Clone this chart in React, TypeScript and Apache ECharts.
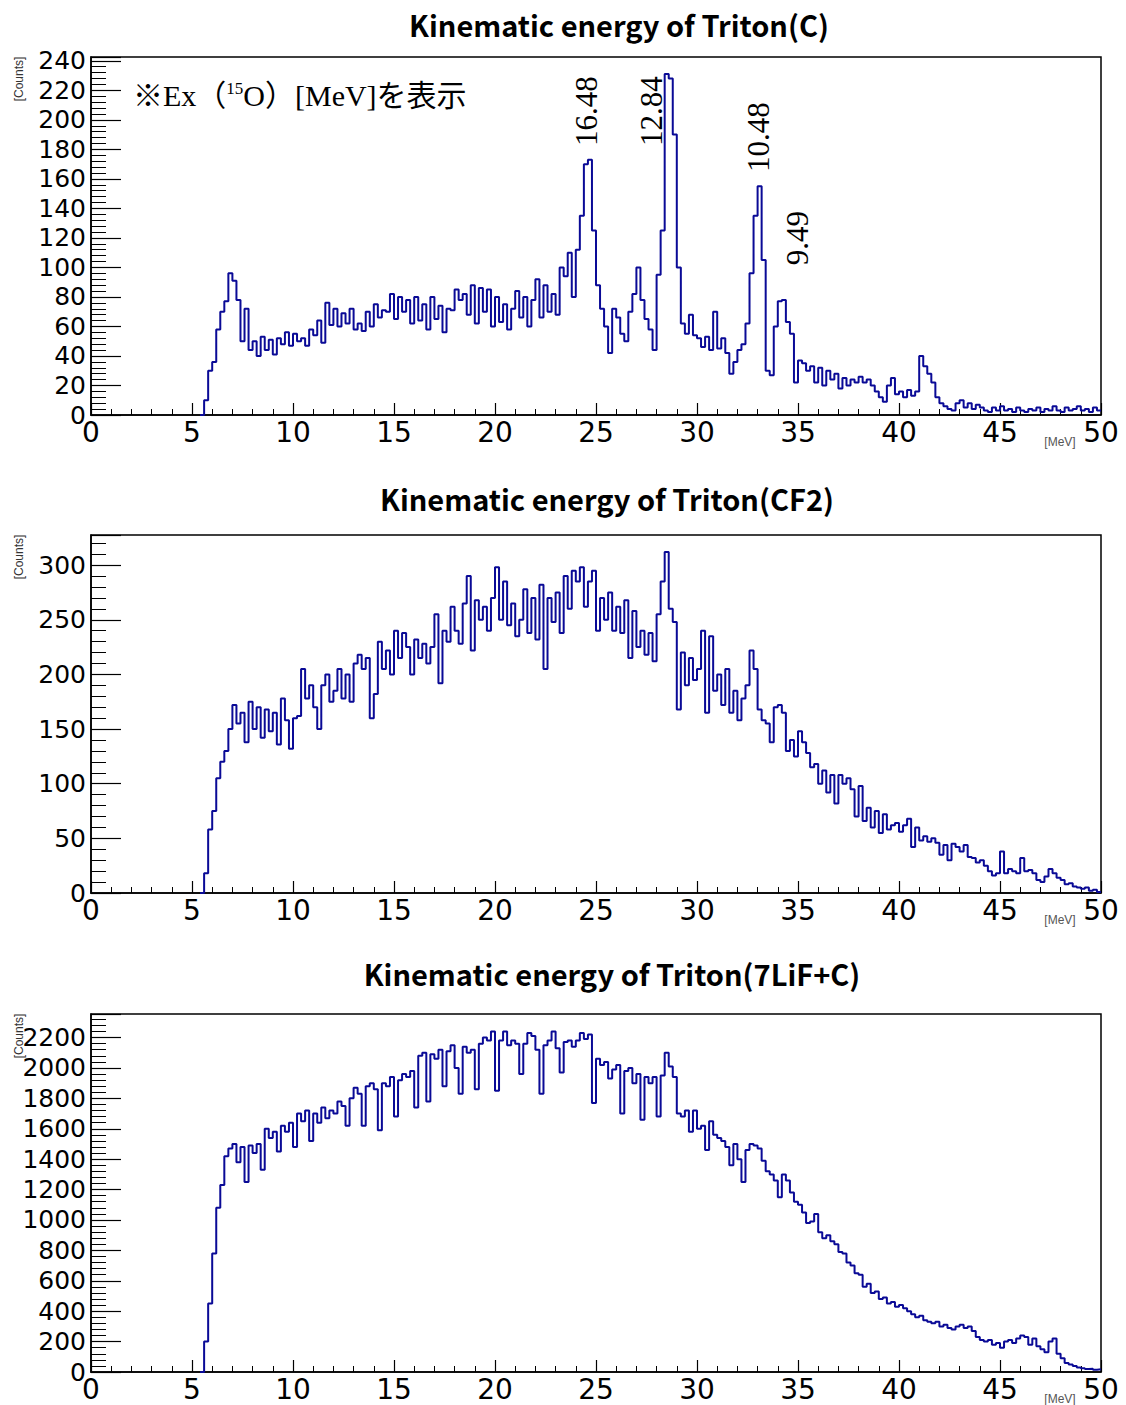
import React, { useEffect, useRef } from "react";
import * as echarts from "echarts";

// ---- data (0.2 MeV bins, first bin starts at 5.4 MeV) ----
const BIN_START = 5.4;
const BIN_WIDTH = 0.2;
const X_MAX = 50;

const countsC = [
  0, 10, 30, 36, 58, 70, 77, 96, 91, 78,
  50, 72, 44, 50, 40, 53, 44, 51, 41, 52,
  48, 56, 47, 55, 50, 52, 47, 58, 54, 64,
  49, 76, 61, 72, 60, 69, 62, 72, 58, 62,
  57, 70, 60, 75, 66, 71, 70, 82, 65, 80,
  70, 78, 62, 80, 64, 75, 58, 80, 65, 74,
  56, 72, 71, 85, 78, 82, 68, 88, 62, 86,
  70, 85, 60, 80, 63, 75, 58, 72, 84, 66,
  80, 60, 78, 92, 66, 88, 70, 82, 68, 100,
  94, 110, 80, 112, 135, 170, 173, 125, 88, 72,
  60, 42, 72, 66, 55, 50, 70, 82, 100, 78,
  65, 58, 44, 95, 125, 231, 228, 190, 100, 62,
  55, 68, 54, 52, 46, 53, 44, 70, 45, 52,
  42, 28, 36, 44, 48, 62, 96, 135, 155, 105,
  30, 27, 60, 77, 78, 63, 55, 22, 37, 35,
  30, 33, 22, 32, 20, 30, 24, 28, 18, 25,
  20, 24, 22, 26, 22, 24, 20, 16, 12, 9,
  20, 25, 14, 16, 12, 17, 13, 16, 40, 33,
  28, 22, 12, 8, 6, 4, 3, 8, 10, 5,
  8, 4, 7, 5, 3, 2, 5, 3, 6, 3,
  4, 2, 5, 3, 2, 4, 3, 5, 2, 4,
  3, 6, 3, 2, 5, 3, 4, 6, 3, 4,
  2, 5, 3,
];

const countsCF2 = [
  0, 18, 58, 75, 105, 120, 130, 150, 172, 155,
  165, 138, 175, 150, 170, 142, 168, 148, 165, 136,
  178, 158, 132, 160, 162, 205, 178, 190, 170, 150,
  190, 200, 175, 185, 205, 178, 200, 175, 210, 218,
  205, 215, 160, 182, 230, 205, 222, 200, 240, 215,
  238, 225, 200, 232, 215, 228, 210, 225, 255, 192,
  240, 230, 262, 240, 228, 265, 290, 222, 268, 250,
  262, 240, 270, 298, 250, 285, 245, 265, 235, 250,
  278, 238, 270, 232, 282, 205, 270, 248, 275, 238,
  290, 260, 295, 285, 298, 262, 285, 295, 240, 270,
  250, 275, 240, 262, 238, 268, 215, 258, 225, 240,
  218, 238, 212, 255, 285, 312, 260, 248, 168, 220,
  190, 215, 195, 205, 240, 165, 235, 185, 200, 172,
  205, 165, 185, 158, 178, 190, 222, 205, 168, 158,
  155, 138, 170, 172, 165, 130, 140, 125, 148, 138,
  128, 115, 118, 100, 112, 92, 108, 82, 108, 100,
  105, 95, 70, 98, 66, 78, 60, 75, 55, 72,
  58, 62, 64, 56, 62, 68, 42, 60, 48, 52,
  47, 50, 46, 35, 44, 30, 45, 42, 38, 44,
  33, 32, 28, 30, 25, 20, 16, 18, 38, 18,
  22, 20, 18, 32, 20, 21, 18, 12, 10, 15,
  22, 18, 14, 12, 8, 9, 6, 5, 4, 5,
  2, 3, 1,
];

const countsLiFC = [
  0, 200, 450, 780, 1080, 1230, 1420, 1470, 1500, 1380,
  1480, 1250, 1490, 1440, 1500, 1330, 1600, 1540, 1580, 1450,
  1620, 1580, 1640, 1480, 1700, 1650, 1720, 1520, 1700, 1640,
  1740, 1670, 1720, 1700, 1780, 1750, 1620, 1800, 1870, 1830,
  1620, 1880, 1900, 1860, 1590, 1900, 1880, 1940, 1680, 1920,
  1960, 1940, 1980, 1740, 2080, 2100, 1780, 2090, 2060, 2120,
  1880, 2110, 2150, 2000, 1830, 2140, 2100, 2120, 1860, 2160,
  2200, 2180, 2240, 1850, 2180, 2240, 2150, 2180, 2160, 1960,
  2160, 2230, 2210, 2120, 1830, 2150, 2180, 2240, 2130, 1970,
  2170, 2180, 2140, 2180, 2230, 2190, 2220, 1770, 2060, 2020,
  2040, 1930, 1990, 2020, 1700, 1980, 2000, 1900, 1960, 1660,
  1940, 1900, 1940, 1680, 1950, 2100, 2010, 1940, 1700, 1680,
  1720, 1580, 1720, 1600, 1620, 1460, 1650, 1560, 1540, 1520,
  1480, 1360, 1500, 1400, 1250, 1460, 1500, 1490, 1470, 1390,
  1320, 1300, 1260, 1150, 1300, 1260, 1180, 1120, 1100, 1050,
  980, 990, 1040, 920, 880, 900, 860, 840, 790, 780,
  720, 700, 650, 640, 560, 580, 520, 530, 480, 490,
  450, 460, 430, 440, 420, 400, 380, 360, 370, 340,
  330, 320, 330, 300, 310, 290, 280, 300, 310, 290,
  300, 270, 230, 210, 200, 210, 180, 190, 160, 200,
  210, 190, 220, 240, 230, 180, 220, 170, 150, 130,
  200, 220, 120, 90, 60, 50, 40, 30, 25, 20,
  22, 15, 18,
];

const titles = [
  "Kinematic energy of Triton(C)",
  "Kinematic energy of Triton(CF2)",
  "Kinematic energy of Triton(7LiF+C)",
];
const yMaxes = [242.6, 327.6, 2355];
const yIntervals = [20, 50, 200];
const xInterval = 5;
const peakLabels = ["16.48", "12.84", "10.48", "9.49"];
const noteText = { before: "※Ex（", sup: "15", after: "O）[MeV]を表示" };
const yAxisTitle = "[Counts]";
const xAxisTitle = "[MeV]";

function toSteps(counts: number[]) {
  const pts: number[][] = counts.map((v, i) => [
    Math.round((BIN_START + i * BIN_WIDTH) * 100) / 100,
    v,
  ]);
  pts.push([X_MAX, counts[counts.length - 1]]);
  return pts;
}

const allCounts = [countsC, countsCF2, countsLiFC];

export default function App() {
  const ref = useRef<HTMLDivElement>(null);

  useEffect(() => {
    if (!ref.current) return;
    const chart = echarts.init(ref.current, undefined, { renderer: "svg" });

    const gridTops = [57, 535, 1014];
    const gridH = 358;
    const titlePos = [
      [619, 24],
      [607, 498],
      [612, 973],
    ];
    const peakPos = [
      [586, 111],
      [651, 111],
      [758, 137],
      [797, 238],
    ];

    const grids = gridTops.map((t) => ({
      left: 91,
      top: t,
      width: 1010,
      height: gridH,
      show: true,
      borderColor: "#000",
      borderWidth: 1.5,
      backgroundColor: "transparent",
    }));

    const xAxes = gridTops.map((_, i) => ({
      gridIndex: i,
      type: "value",
      min: 0,
      max: X_MAX,
      interval: xInterval,
      axisLine: { show: true, onZero: false, lineStyle: { color: "#000", width: 1.5 } },
      axisTick: { show: true, inside: true, length: 12, lineStyle: { color: "#000", width: 1.2 } },
      minorTick: { show: true, splitNumber: 5, length: 6, lineStyle: { color: "#000", width: 1 } },
      splitLine: { show: false },
      minorSplitLine: { show: false },
      axisLabel: {
        color: "#000",
        fontFamily: "DejaVu Sans",
        fontSize: 28,
        margin: 3,
        lineHeight: 28,
        showMinLabel: true,
        showMaxLabel: true,
      },
    }));

    const yAxes = gridTops.map((_, i) => ({
      gridIndex: i,
      type: "value",
      min: 0,
      max: yMaxes[i],
      interval: yIntervals[i],
      axisLine: { show: true, lineStyle: { color: "#000", width: 1.5 } },
      axisTick: { show: true, inside: true, length: 30, lineStyle: { color: "#000", width: 1.2 } },
      minorTick: { show: true, splitNumber: 5, length: 15, lineStyle: { color: "#000", width: 1 } },
      splitLine: { show: false },
      minorSplitLine: { show: false },
      axisLabel: {
        color: "#000",
        fontFamily: "DejaVu Sans",
        fontSize: 25,
        margin: 5,
        formatter: (v: number) =>
          Math.abs(v / yIntervals[i] - Math.round(v / yIntervals[i])) < 1e-6 ? String(v) : "",
      },
    }));

    const series = allCounts.map((c, i) => ({
      type: "line",
      xAxisIndex: i,
      yAxisIndex: i,
      step: "end",
      symbol: "none",
      data: toSteps(c),
      lineStyle: { color: "#0a0a96", width: 2 },
      clip: true,
    }));

    const graphic: any[] = [];
    titles.forEach((t, i) => {
      graphic.push({
        type: "text",
        x: titlePos[i][0],
        y: titlePos[i][1],
        style: {
          text: t,
          fontFamily: "Noto Sans CJK JP",
          fontWeight: "bold",
          fontSize: 29,
          fill: "#000",
          align: "center",
          verticalAlign: "middle",
        },
      });
      graphic.push({
        type: "text",
        x: 19,
        y: gridTops[i] + 22,
        rotation: Math.PI / 2,
        style: {
          text: yAxisTitle,
          fontFamily: "Liberation Sans",
          fontSize: 12,
          fill: "#333",
          align: "center",
          verticalAlign: "middle",
        },
      });
      graphic.push({
        type: "text",
        x: 1060,
        y: gridTops[i] + gridH + 27,
        style: {
          text: xAxisTitle,
          fontFamily: "Liberation Sans",
          fontSize: 12,
          fill: "#555",
          align: "center",
          verticalAlign: "middle",
        },
      });
    });

    graphic.push({
      type: "text",
      x: 133,
      y: 95,
      style: {
        text: `{a|${noteText.before}}{s|${noteText.sup}}{a|${noteText.after}}`,
        align: "left",
        verticalAlign: "middle",
        rich: {
          a: {
            fontFamily: "Liberation Serif, Noto Sans CJK JP",
            fontSize: 30,
            fill: "#000",
            color: "#000",
          },
          s: {
            fontFamily: "Liberation Serif",
            fontSize: 17,
            fill: "#000",
            color: "#000",
            verticalAlign: "top",
          },
        },
      },
    });

    peakLabels.forEach((p, i) => {
      graphic.push({
        type: "text",
        x: peakPos[i][0],
        y: peakPos[i][1],
        rotation: Math.PI / 2,
        style: {
          text: p,
          fontFamily: "Liberation Serif",
          fontSize: 31,
          fill: "#000",
          align: "center",
          verticalAlign: "middle",
        },
      });
    });

    chart.setOption({
      animation: false,
      backgroundColor: "#fff",
      grid: grids,
      xAxis: xAxes,
      yAxis: yAxes,
      series,
      graphic,
    } as any);

    return () => chart.dispose();
  }, []);

  return (
    <div
      ref={ref}
      style={{ position: "absolute", left: 0, top: 0, width: 1126, height: 1405 }}
    />
  );
}
